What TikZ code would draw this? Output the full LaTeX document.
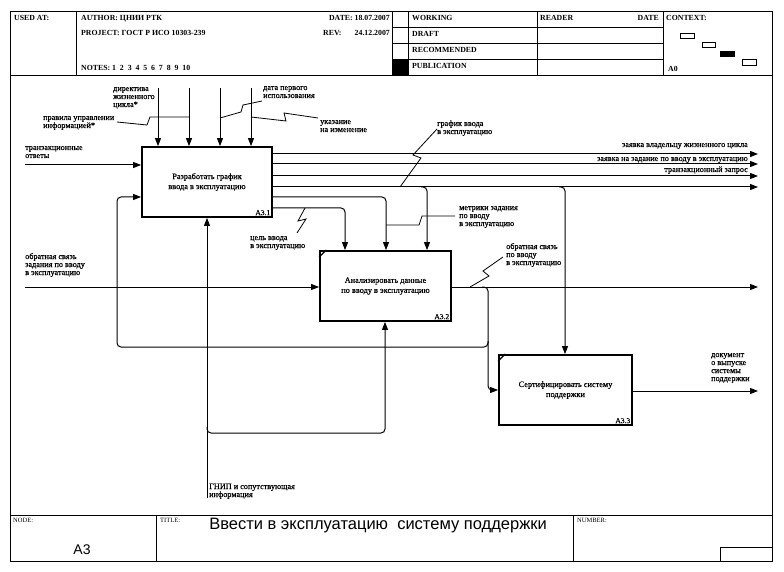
\documentclass[tikz,border=0pt]{standalone}
\usepackage{fontspec}
\setmainfont{Liberation Serif}
\newfontfamily\sansf{Liberation Sans}
\newfontfamily\lblf[FakeBold=0.5]{Liberation Serif}
\usetikzlibrary{arrows.meta}
\begin{document}
\begin{tikzpicture}[x=1pt,y=-1pt,
  frm/.style={line width=1pt},
  fun/.style={draw,line width=1.8pt,minimum width=#1,minimum height=70pt,inner sep=0pt,align=center,font=\lblf\fontsize{8.3}{10}\selectfont},
  arr/.style={line width=1pt,-{Triangle[length=8pt,width=6pt]},rounded corners=4pt},
  sq/.style={line width=0.8pt},
  lbl/.style={inner sep=0pt,align=left,anchor=base west,font=\lblf\fontsize{8.2}{8}\selectfont},
  lblr/.style={inner sep=0pt,anchor=base east,font=\lblf\fontsize{8.2}{8}\selectfont},
  hd/.style={inner sep=0pt,anchor=base west,font=\bfseries\fontsize{7.8}{8}\selectfont},
  hdr/.style={inner sep=0pt,anchor=base east,font=\bfseries\fontsize{7.8}{8}\selectfont},
  num/.style={inner sep=2.5pt,anchor=south east,font=\lblf\fontsize{7.5}{8}\selectfont},
  ctx/.style={line width=0.8pt}
]
\useasboundingbox (0,0) rectangle (784,572);
% ---------- frame ----------
\draw[frm] (10,12) rectangle (772,561);
\draw[frm] (10,76) -- (772,76);
\draw[frm] (76,12) -- (76,76);
\draw[frm] (392,12) -- (392,76);
\draw[frm] (408,12) -- (408,76);
\draw[frm] (537,12) -- (537,76);
\draw[frm] (663,12) -- (663,76);
\draw[frm] (392,28) -- (663,28);
\draw[frm] (392,44) -- (663,44);
\draw[frm] (392,60) -- (663,60);
\fill (392,60) rectangle (408,76);
\draw[frm] (10,515) -- (772,515);
\draw[frm] (156,515) -- (156,561);
\draw[frm] (573,515) -- (573,561);
\draw[frm] (720,547) rectangle (772,561);
% header texts
\node[hd] (usedat) at (14,21) {USED AT:};
\node[hd] (author) at (81,21) {AUTHOR: ЦНИИ РТК};
\node[hdr] (date) at (390,21) {DATE: 18.07.2007};
\node[hd] (project) at (81,36) {PROJECT: ГОСТ Р ИСО 10303-239};
\node[hd] (rev) at (323,36) {REV:};
\node[hdr] (revd) at (390,36) {24.12.2007};
\node[hd] (notes) at (81,71) {NOTES: 1~ 2~ 3~ 4~ 5~ 6~ 7~ 8~ 9~ 10};
\node[hd] (working) at (412,21) {WORKING};
\node[hd] (draft) at (412,37) {DRAFT};
\node[hd] (recom) at (412,53) {RECOMMENDED};
\node[hd] (public) at (412,69) {PUBLICATION};
\node[hd] (reader) at (540,21) {READER};
\node[hdr] (rdate) at (659,21) {DATE};
\node[hd] (context) at (666,21) {CONTEXT:};
\node[hd] (a0) at (668,72) {A0};
\draw[ctx] (680,33) rectangle (694,38);
\draw[ctx] (702,42) rectangle (715,47);
\draw[ctx,fill=black] (720,51) rectangle (734,56);
\draw[ctx] (742,59) rectangle (756,65);
% footer texts
\node[hd,font=\fontsize{6.5}{8}\selectfont] (nodel) at (13,522) {NODE:};
\node[hd,font=\fontsize{6.5}{8}\selectfont] (titlel) at (160,522) {TITLE:};
\node[hd,font=\fontsize{6.5}{8}\selectfont] (numl) at (577,522) {NUMBER:};
\node[inner sep=0pt,anchor=base,font=\sansf\fontsize{14}{16}\selectfont] (nodeno) at (82,554) {A3};
\node[inner sep=0pt,anchor=base,font=\sansf\fontsize{16.5}{18}\selectfont] (title) at (378,529) {Ввести в эксплуатацию~ систему поддержки};
% ---------- function boxes ----------
\node[fun=130pt] (b1) at (207,182) {Разработать график\\ввода в эксплуатацию};
\node[fun=131pt] (b2) at (385.5,286) {Анализировать данные\\по вводу в эксплуатацию};
\node[fun=133pt] (b3) at (565.5,390) {Сертифицировать систему\\поддержки};
\node[num] (n1) at (b1.south east) {A3.1};
\node[num] (n2) at (b2.south east) {A3.2};
\node[num] (n3) at (b3.south east) {A3.3};
\draw[line width=1.2pt] ([yshift=-7pt]b2.north west) -- ([xshift=7pt]b2.north west);
\draw[line width=1.2pt] ([yshift=-7pt]b3.north west) -- ([xshift=7pt]b3.north west);
% ---------- controls of box 1 ----------
\coordinate (c1) at (158,88);
\coordinate (c2) at (189,88);
\coordinate (c3) at (220,88);
\coordinate (c4) at (251,88);
\draw[arr] (c1) -- (c1 |- b1.north);
\draw[arr] (c2) -- (c2 |- b1.north);
\draw[arr] (c3) -- (c3 |- b1.north);
\draw[arr] (c4) -- (c4 |- b1.north);
% ---------- inputs ----------
\coordinate (i1) at (25,165);
\coordinate (i2) at (25,287);
\draw[arr] (i1) -- (i1 -| b1.west);
\draw[arr] (i2) -- (i2 -| b2.west);
% ---------- outputs of box 1 ----------
\coordinate (o1) at (758,154);
\coordinate (o2) at (758,164);
\coordinate (o3) at (758,176);
\coordinate (o4) at (758,187);
\draw[arr] (o1 -| b1.east) -- (o1);
\draw[arr] (o2 -| b1.east) -- (o2);
\draw[arr] (o3 -| b1.east) -- (o3);
\draw[arr] (o4 -| b1.east) -- (o4);
\coordinate (k1) at (386,197);
\coordinate (k2) at (345,208);
\coordinate (k3) at (427,187);
\coordinate (k4) at (565,187);
\draw[arr] (k1 -| b1.east) -- (k1) -- (k1 |- b2.north);
\draw[arr] (k2 -| b1.east) -- (k2) -- (k2 |- b2.north);
\draw[arr] ([xshift=-6pt]k3) -- (k3) -- (k3 |- b2.north);
\draw[arr] ([xshift=-6pt]k4) -- (k4) -- (k4 |- b3.north);
% ---------- outputs of box 2 ----------
\coordinate (o5) at (758,287);
\draw[arr] (o5 -| b2.east) -- (o5);
\coordinate (f1) at (488,287);
\coordinate (f2) at (488,390);
\coordinate (f3) at (488,347);
\coordinate (f4) at (117,347);
\coordinate (f5) at (117,197);
\draw[arr] ([xshift=-6pt]f1) -- (f1) -- (f2) -- (f2 -| b3.west);
\draw[arr] ([yshift=6pt]f3) -- (f3) -- (f4) -- (f5) -- (f5 -| b1.west);
% ---------- output of box 3 ----------
\coordinate (o6) at (758,391);
\draw[arr] (o6 -| b3.east) -- (o6);
% ---------- mechanism ----------
\coordinate (m1) at (207,498);
\coordinate (m2) at (207,433);
\coordinate (m3) at (385,433);
\draw[arr] (m1) -- (m1 |- b1.south);
\draw[arr] ([yshift=6pt]m2) -- (m2) -- (m3) -- (m3 |- b2.south);
% ---------- labels (anchor = baseline of last line) ----------
\node[lbl] (l1) at (113,107) {директива\\жизненного\\цикла*};
\node[lbl] (l2) at (43,128) {правила управлении\\информацией*};
\node[lbl] (l3) at (263,98) {дата первого\\использования};
\node[lbl] (l4) at (320,132) {указание\\на изменение};
\node[lbl] (l5) at (25,158) {транзакционные\\ответы};
\node[lbl] (l6) at (25,275) {обратная связь\\задания по вводу\\в эксплуатацию};
\node[lbl] (l7) at (250,248) {цель ввода\\в эксплуатацию};
\node[lbl] (l8) at (459,226) {метрики задания\\по вводу\\в эксплуатацию};
\node[lbl] (l9) at (437,134) {график ввода\\в эксплуатацию};
\node[lblr] (l10) at (748,147) {заявка владельцу жизненного цикла};
\node[lblr] (l11) at (748,161) {заявка на задание по вводу в эксплуатацию};
\node[lblr] (l12) at (748,172) {транзакционный запрос};
\node[lbl] (l13) at (506,265) {обратная связь\\по вводу\\в эксплуатацию};
\node[lbl] (l14) at (711,381) {документ\\о выпуске\\системы\\поддержки};
\node[lbl] (l15) at (209,497) {ГНИП и сопутствующая\\информация};
% ---------- squiggles ----------
\draw[sq] (117,122) -- (147,125) -- (150,117) -- (189,117);
\draw[sq] (220,118) -- (241,112) -- (243,105) -- (262,101);
\draw[sq] (251,117) -- (286,121) -- (284,113) -- (318,118);
\draw[sq] (305,208) -- (298,221) -- (306,219) -- (297,233);
\draw[sq] (386,225) -- (419,225) -- (422,216) -- (455,216);
\draw[sq] (470,287) -- (489,276) -- (483,271) -- (503,257);
\draw[sq] (400,187) -- (421,158) -- (413,155) -- (437,129);
\end{tikzpicture}
\end{document}
